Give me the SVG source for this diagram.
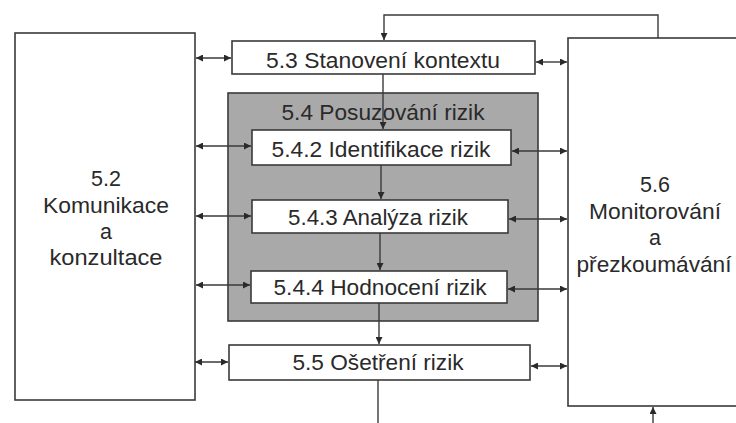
<svg xmlns="http://www.w3.org/2000/svg" width="736" height="423" viewBox="0 0 736 423">
<style>
.box{fill:#fff;stroke:#3a3a3a;stroke-width:1.6}
.gray{fill:#a9a9a9;stroke:#3a3a3a;stroke-width:1.6}
.t{font-family:"Liberation Sans",Arial,sans-serif;font-size:21.5px;fill:#2a2a2a;text-anchor:middle}
.c{fill:none;stroke:#3a3a3a;stroke-width:1.4}
</style>
<defs>
<marker id="ah" viewBox="0 0 10 10" refX="10" refY="5" markerWidth="8" markerHeight="7" markerUnits="userSpaceOnUse" orient="auto-start-reverse">
<path d="M0,0 L10,5 L0,10 z" fill="#2a2a2a"/>
</marker>
</defs>
<rect width="736" height="423" fill="#fff"/>
<g id="n52">
<rect class="box" x="15" y="33" width="180" height="367"/>
<text class="t" x="106" y="186">5.2</text>
<text class="t" x="106" y="213" textLength="126" lengthAdjust="spacingAndGlyphs">Komunikace</text>
<text class="t" x="106" y="239">a</text>
<text class="t" x="106" y="265" textLength="113" lengthAdjust="spacingAndGlyphs">konzultace</text>
</g>
<g id="n56">
<rect class="box" x="568" y="38" width="190" height="368"/>
<text class="t" x="655" y="192">5.6</text>
<text class="t" x="655" y="219" textLength="132" lengthAdjust="spacingAndGlyphs">Monitorování</text>
<text class="t" x="655" y="245">a</text>
<text class="t" x="654" y="272" textLength="155" lengthAdjust="spacingAndGlyphs">přezkoumávání</text>
</g>
<g id="n53">
<rect class="box" x="232" y="41" width="303" height="33"/>
<text class="t" x="383" y="68" textLength="234" lengthAdjust="spacingAndGlyphs">5.3 Stanovení kontextu</text>
</g>
<g id="n54">
<rect class="gray" x="228" y="93" width="310" height="228"/>
<text class="t" x="383" y="120" textLength="203" lengthAdjust="spacingAndGlyphs">5.4 Posuzování rizik</text>
</g>
<g id="n542">
<rect class="box" x="252" y="130" width="259" height="35"/>
<text class="t" x="381" y="157" textLength="219" lengthAdjust="spacingAndGlyphs">5.4.2 Identifikace rizik</text>
</g>
<g id="n543">
<rect class="box" x="252" y="200" width="256" height="33"/>
<text class="t" x="378" y="225" textLength="180" lengthAdjust="spacingAndGlyphs">5.4.3 Analýza rizik</text>
</g>
<g id="n544">
<rect class="box" x="251" y="271" width="256" height="32"/>
<text class="t" x="380" y="295" textLength="213" lengthAdjust="spacingAndGlyphs">5.4.4 Hodnocení rizik</text>
</g>
<g id="n55">
<rect class="box" x="229" y="345" width="301" height="35"/>
<text class="t" x="378" y="370" textLength="171" lengthAdjust="spacingAndGlyphs">5.5 Ošetření rizik</text>
</g>
<g id="connectors">
<!-- left bidirectional -->
<line class="c" x1="196" y1="58" x2="231" y2="58" marker-start="url(#ah)" marker-end="url(#ah)"/>
<line class="c" x1="196" y1="146" x2="251" y2="146" marker-start="url(#ah)" marker-end="url(#ah)"/>
<line class="c" x1="196" y1="216" x2="251" y2="216" marker-start="url(#ah)" marker-end="url(#ah)"/>
<line class="c" x1="196" y1="285" x2="250" y2="285" marker-start="url(#ah)" marker-end="url(#ah)"/>
<line class="c" x1="195" y1="362" x2="228" y2="362" marker-start="url(#ah)" marker-end="url(#ah)"/>
<!-- right bidirectional -->
<line class="c" x1="536" y1="62" x2="567" y2="62" marker-start="url(#ah)" marker-end="url(#ah)"/>
<line class="c" x1="512" y1="151" x2="567" y2="151" marker-start="url(#ah)" marker-end="url(#ah)"/>
<line class="c" x1="509" y1="219" x2="567" y2="219" marker-start="url(#ah)" marker-end="url(#ah)"/>
<line class="c" x1="508" y1="289" x2="567" y2="289" marker-start="url(#ah)" marker-end="url(#ah)"/>
<line class="c" x1="531" y1="366" x2="567" y2="366" marker-start="url(#ah)" marker-end="url(#ah)"/>
<!-- vertical flow -->
<line class="c" x1="383" y1="74" x2="383" y2="129" marker-end="url(#ah)"/>
<line class="c" x1="381" y1="165" x2="381" y2="199" marker-end="url(#ah)"/>
<line class="c" x1="380" y1="233" x2="380" y2="270" marker-end="url(#ah)"/>
<line class="c" x1="379" y1="303" x2="379" y2="344" marker-end="url(#ah)"/>
<!-- feedback loops -->
<polyline class="c" points="658,38 658,15 384,15 384,40" marker-end="url(#ah)"/>
<line class="c" x1="378" y1="380" x2="378" y2="430"/>
<line class="c" x1="653" y1="430" x2="653" y2="407" marker-end="url(#ah)"/>
</g>
</svg>
